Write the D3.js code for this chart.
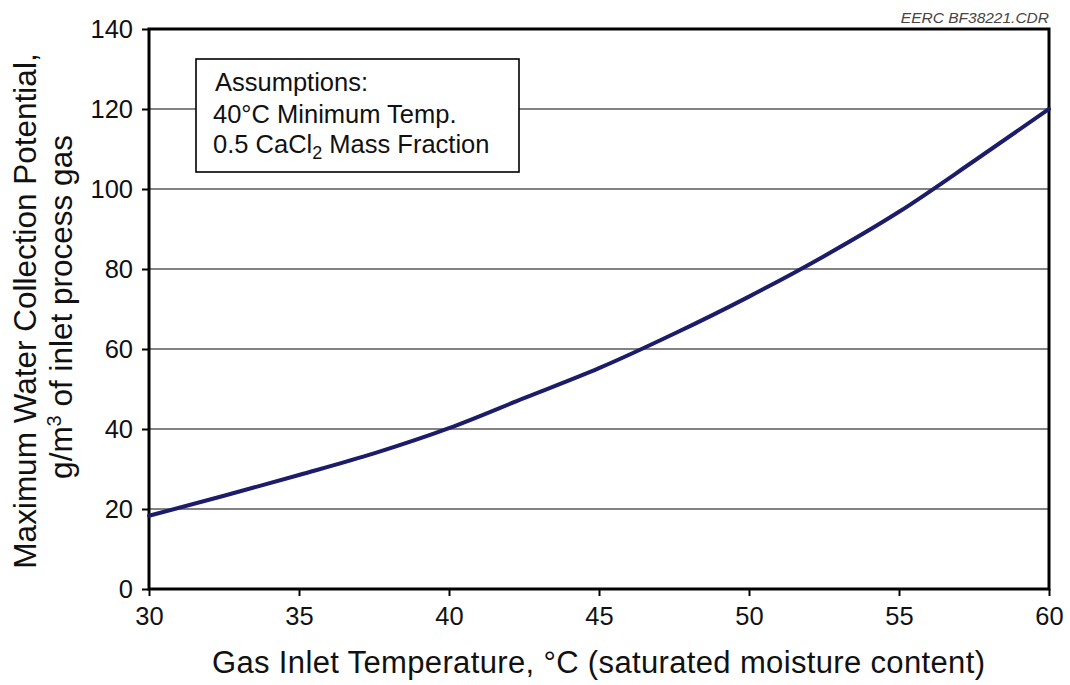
<!DOCTYPE html>
<meta charset="utf-8">
<script src="https://d3js.org/d3.v7.min.js"></script>
<style>
  body { margin: 0; background: #fff; }
  text { font-family: "Liberation Sans", Arial, sans-serif; fill: #111; }
</style>
<div id="chart"></div>
<script>
// values
var temps = [30, 32.5, 35, 37.5, 40, 42.5, 45, 47.5, 50, 52.5, 55, 57.5, 60];
var water = [18.3, 23.3, 28.5, 33.9, 40.2, 47.7, 55.2, 63.8, 73.1, 83.2, 94.3, 107.0, 120];
var xTicks = [30, 35, 40, 45, 50, 55, 60];
var yTicks = [0, 20, 40, 60, 80, 100, 120, 140];

var W = 1070, H = 685;
var margin = {top: 29, right: 21, bottom: 96, left: 149};
var width = W - margin.left - margin.right,   // 900
    height = H - margin.top - margin.bottom;  // 560

var svg = d3.select("#chart").append("svg")
    .attr("width", W)
    .attr("height", H);

var g = svg.append("g")
    .attr("transform", "translate(" + margin.left + "," + margin.top + ")");

var x = d3.scaleLinear().domain([30, 60]).range([0, width]);
var y = d3.scaleLinear().domain([0, 140]).range([height, 0]);

// gridlines
g.append("g")
  .selectAll("line")
  .data(yTicks.filter(function(d) { return d > 0 && d < 140; }))
  .enter().append("line")
    .attr("x1", 0).attr("x2", width)
    .attr("y1", function(d) { return y(d); })
    .attr("y2", function(d) { return y(d); })
    .attr("stroke", "#5a5a5a")
    .attr("stroke-width", 1.6);

// axes
var xAxis = g.append("g")
  .attr("transform", "translate(0," + height + ")")
  .call(d3.axisBottom(x).tickValues(xTicks).tickSize(7).tickPadding(11));
var yAxis = g.append("g")
  .call(d3.axisLeft(y).tickValues(yTicks).tickSize(7).tickPadding(9));

[xAxis, yAxis].forEach(function(a) {
  a.select(".domain").remove();
  a.selectAll(".tick line").attr("stroke", "#000").attr("stroke-width", 2);
  a.selectAll(".tick text")
    .style("font-family", "'Liberation Sans', Arial, sans-serif")
    .style("font-size", "25.5px")
    .attr("fill", "#111");
});
xAxis.selectAll(".tick text").attr("dy", "0.72em");

// frame
g.append("rect")
  .attr("x", 0).attr("y", 0)
  .attr("width", width).attr("height", height)
  .attr("fill", "none")
  .attr("stroke", "#000")
  .attr("stroke-width", 3);

// legend box
var box = g.append("g").attr("transform", "translate(" + (196 - margin.left) + "," + (59 - margin.top) + ")");
box.append("rect")
  .attr("width", 323).attr("height", 113)
  .attr("fill", "#fff")
  .attr("stroke", "#000")
  .attr("stroke-width", 1.6);
box.append("text").attr("x", 19).attr("y", 32)
  .style("font-size", "25.5px").text("Assumptions:");
box.append("text").attr("x", 17).attr("y", 64)
  .style("font-size", "25.5px").text("40°C Minimum Temp.");
var t3 = box.append("text").attr("x", 17).attr("y", 94)
  .style("font-size", "25.5px");
t3.append("tspan").text("0.5 CaCl");
t3.append("tspan").attr("dy", 6).style("font-size", "18px").text("2");
t3.append("tspan").attr("dy", -6).text(" Mass Fraction");

// curve
var pts = temps.map(function(t, i) { return {t: t, v: water[i]}; });
g.append("path")
  .datum(pts)
  .attr("fill", "none")
  .attr("stroke", "#1c1c6a")
  .attr("stroke-width", 4)
  .attr("stroke-linecap", "round")
  .attr("d", d3.line()
    .curve(d3.curveMonotoneX)
    .x(function(d) { return x(d.t); })
    .y(function(d) { return y(d.v); }));

// axis titles
svg.append("text")
  .attr("x", 212).attr("y", 673)
  .attr("textLength", 773)
  .attr("lengthAdjust", "spacing")
  .style("font-size", "31px")
  .text("Gas Inlet Temperature, °C (saturated moisture content)");

var yt = svg.append("g").attr("transform", "translate(0,311) rotate(-90)");
yt.append("text")
  .attr("x", 0).attr("y", 36)
  .attr("text-anchor", "middle")
  .style("font-size", "31.5px")
  .text("Maximum Water Collection Potential,");
var l2 = yt.append("text")
  .attr("x", 4).attr("y", 72)
  .attr("text-anchor", "middle")
  .style("font-size", "31.5px");
l2.append("tspan").text("g/m");
l2.append("tspan").attr("dy", -11).style("font-size", "20px").text("3");
l2.append("tspan").attr("dy", 11).text(" of inlet process gas");

// file tag
svg.append("text")
  .attr("x", 1049).attr("y", 23)
  .attr("text-anchor", "end")
  .style("font-size", "15.5px")
  .style("font-style", "italic")
  .style("fill", "#444")
  .text("EERC BF38221.CDR");
</script>
